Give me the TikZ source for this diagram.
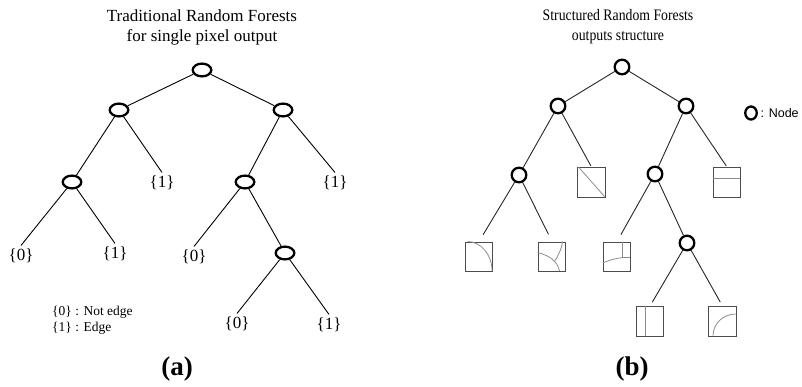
\documentclass[tikz,border=0pt]{standalone}
\usepackage{fontspec}
\usepackage{graphicx}
\setmainfont{Liberation Serif}
\newfontfamily\sansfam{Liberation Sans}
\usetikzlibrary{shapes.geometric}
\begin{document}
\begin{tikzpicture}[x=1pt,y=-1pt,
  treenode/.style={ellipse, draw, line width=2.3pt, minimum width=18.6pt, minimum height=12.8pt, inner sep=0pt},
  rnode/.style={circle, draw, line width=2.3pt, minimum size=14.6pt, inner sep=0pt},
  leaf/.style={inner sep=3.3pt, font=\fontsize{17}{18}\selectfont},
  edge/.style={line width=0.9pt, black},
  redge/.style={line width=0.9pt, black!85},
  outbox/.style={draw=black!70, line width=1.4pt, minimum width=27.5pt, minimum height=29.5pt, inner sep=0pt},
  innerln/.style={draw=black!45, line width=0.8pt}
]
\useasboundingbox (0,0) rectangle (802,387);

% ---------- (a) ----------
\node[font=\fontsize{17}{20}\selectfont, align=center] (ta) at (202,27.5) {Traditional Random Forests\\for single pixel output};

\node[treenode] (ra) at (202,70) {};
\node[treenode] (la) at (119,110) {};
\node[treenode] (rra) at (283,110) {};
\node[treenode] (na2l) at (72,182) {};
\node[treenode] (na2r) at (245,182) {};
\node[treenode] (na3) at (285,253) {};

\node[leaf] (lfa1) at (162,183) {\{1\}};
\node[leaf] (lfa2) at (335,183) {\{1\}};
\node[leaf] (lfa3) at (21,256) {\{0\}};
\node[leaf] (lfa4) at (115,254) {\{1\}};
\node[leaf] (lfa5) at (194,257) {\{0\}};
\node[leaf] (lfa6) at (237,324) {\{0\}};
\node[leaf] (lfa7) at (329,325) {\{1\}};

\draw[edge] (ra) -- (la);
\draw[edge] (ra) -- (rra);
\draw[edge] (la) -- (na2l);
\draw[edge] (la) -- (lfa1.north);
\draw[edge] (rra) -- (na2r);
\draw[edge] (rra) -- (lfa2.north);
\draw[edge] (na2l) -- (lfa3.north);
\draw[edge] (na2l) -- (lfa4.north);
\draw[edge] (na2r) -- (lfa5.north);
\draw[edge] (na2r) -- (na3);
\draw[edge] (na3) -- (lfa6.north);
\draw[edge] (na3) -- (lfa7.north);

\node[anchor=west, align=left, font=\fontsize{13.5}{16}\selectfont, inner sep=0pt] (lega) at (52,320) {\{0\} : Not edge\\\{1\} : Edge};

\node[font=\bfseries\fontsize{27}{30}\selectfont] (capa) at (177,369) {(a)};

% ---------- (b) ----------
\node[font=\fontsize{16}{20}\selectfont, align=center] (tb) at (618,26.5) {\scalebox{.86}[1]{Structured Random Forests}\\\scalebox{.86}[1]{outputs structure}};

\node[rnode] (rb) at (622,67) {};
\node[rnode] (lb) at (558,106) {};
\node[rnode] (rrb) at (686,106) {};
\node[rnode] (nb2l) at (519,175) {};
\node[rnode] (nb2r) at (655,174) {};
\node[rnode] (nb3) at (687,243) {};

\node[outbox] (bA) at (591.5,182.5) {};
\node[outbox] (bB) at (727,182.5) {};
\node[outbox] (b1) at (479,257) {};
\node[outbox] (b2) at (552,257) {};
\node[outbox] (b3) at (617,257) {};
\node[outbox] (b4) at (650,321.5) {};
\node[outbox] (b5) at (722.5,321.5) {};

% box contents
\begin{scope}[shift={(bA.north west)}]
  \draw[innerln] (1.5,0) -- (27.5,29.5);
\end{scope}
\begin{scope}[shift={(bB.north west)}]
  \draw[innerln] (0,11) -- (27.5,11);
\end{scope}
\begin{scope}[shift={(b1.north west)}]
  \draw[innerln] (3,0) .. controls (16.5,0) and (27.5,13.2) .. (27.5,29.5);
\end{scope}
\begin{scope}[shift={(b2.north west)}]
  \draw[innerln] (0,11) .. controls (8,13) and (14,16) .. (17,20) .. controls (20,23) and (21,26) .. (22,29.5);
  \draw[innerln] (25,0) .. controls (24,8) and (20,15) .. (17,20);
\end{scope}
\begin{scope}[shift={(b3.north west)}]
  \draw[innerln] (20,0) -- (20,16) -- (27.5,16);
  \draw[innerln] (0,21.5) .. controls (7,18.5) and (13,16.8) .. (20,16);
\end{scope}
\begin{scope}[shift={(b4.north west)}]
  \draw[innerln] (10,0) -- (10,29.5);
\end{scope}
\begin{scope}[shift={(b5.north west)}]
  \draw[innerln] (5,29.5) .. controls (5,17.6) and (15.1,8) .. (27.5,8);
\end{scope}

\draw[redge] (rb) -- (lb);
\draw[redge] (rb) -- (rrb);
\draw[redge] (lb) -- (nb2l);
\draw[redge, shorten >=1.5pt] (lb) -- (bA.north);
\draw[redge] (rrb) -- (nb2r);
\draw[redge, shorten >=1.5pt] (rrb) -- (bB.north);
\draw[redge, shorten >=8pt] (nb2l) -- (b1.north);
\draw[redge, shorten >=8pt] (nb2l) -- (b2.north);
\draw[redge, shorten >=8pt] (nb2r) -- (b3.north);
\draw[redge] (nb2r) -- (nb3);
\draw[redge, shorten >=4.5pt] (nb3) -- (b4.north);
\draw[redge, shorten >=4.5pt] (nb3) -- (b5.north);

\node[ellipse, draw, line width=2.3pt, inner sep=0pt, minimum width=11.5pt, minimum height=13pt] (legn) at (751,113) {};
\node[anchor=west, font=\sansfam\fontsize{12.5}{14}\selectfont, inner sep=2pt] (legt) at (758.5,113) {: Node};

\node[font=\bfseries\fontsize{27}{30}\selectfont] (capb) at (632,369) {(b)};
\end{tikzpicture}
\end{document}
